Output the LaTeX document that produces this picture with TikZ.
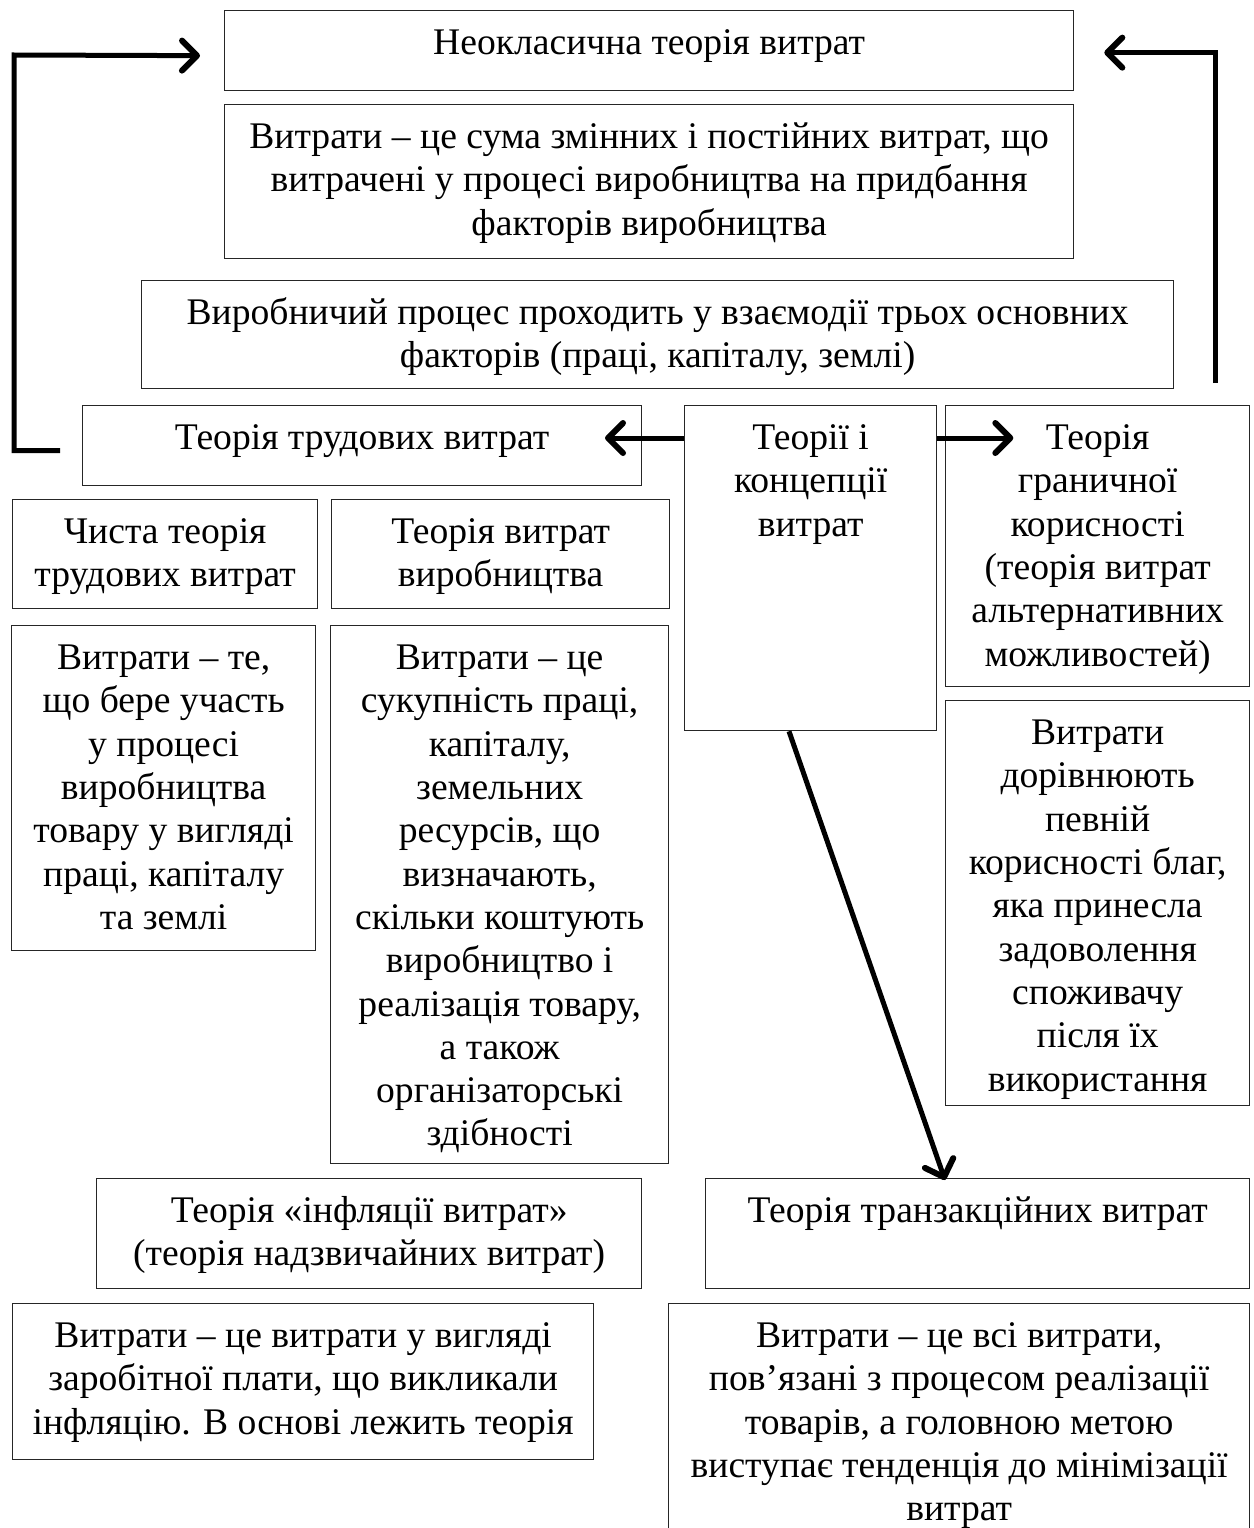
\documentclass[tikz,border=0pt]{standalone}
\usepackage{fontspec}
\setmainfont{Liberation Serif}
\usepackage{tikz}
\usetikzlibrary{positioning}
\usetikzlibrary{arrows.meta}
\tikzset{
block/.style = {draw=black!85, line width=1.3pt, fill=white, rectangle, inner sep=0pt, anchor=north west,
  font=\fontsize{37.6}{43.3}\selectfont},
link/.style = {draw, line width=5pt, line join=miter, -{Straight Barb[length=15pt,width=30pt,line width=6pt,round]}},
tmp/.style  = {coordinate}
}
% top aligned text in a box of given width and height
\newcommand{\btext}[3]{\parbox[t][#2][t]{#1}{\centering\rule{0pt}{44pt}#3}}

\begin{document}
\begin{tikzpicture}[x=1pt,y=-1pt]
    \useasboundingbox (0,0) rectangle (1253,1528);
    % We place the blocks first
    \node [block] at (224,10) (neo) {\btext{849pt}{80pt}{Неокласична теорія витрат}};
    \node [block] at (224,104) (suma) {\btext{849pt}{154pt}{Витрати – це сума змінних і постійних витрат, що\\
        витрачені у процесі виробництва на придбання\\ факторів виробництва}};
    \node [block] at (141,280) (proc) {\btext{1032pt}{108pt}{Виробничий процес проходить у взаємодії трьох основних\\
        факторів (праці, капіталу, землі)}};
    \node [block] at (82,405) (trud) {\btext{559pt}{80pt}{Теорія трудових витрат}};
    \node [block] at (684,405) (teorii) {\btext{252pt}{325pt}{Теорії і\\ концепції\\ витрат}};
    \node [block] at (945,405) (gran) {\btext{304pt}{281pt}{Теорія\\ граничної\\ корисності\\ (теорія витрат\\
        альтернативних\\ можливостей)}};
    \node [block] at (12,499) (chysta) {\btext{305pt}{109pt}{Чиста теорія\\ трудових витрат}};
    \node [block] at (331,499) (vyrob) {\btext{338pt}{109pt}{Теорія витрат\\ виробництва}};
    \node [block] at (11,625) (chystadef) {\btext{304pt}{325pt}{Витрати – те,\\ що бере участь\\ у процесі\\
        виробництва\\ товару у вигляді\\ праці, капіталу\\ та землі}};
    \node [block] at (330,625) (vyrobdef) {\btext{338pt}{538pt}{Витрати – це\\ сукупність праці,\\ капіталу,\\
        земельних\\ ресурсів, що\\ визначають,\\ скільки коштують\\ виробництво і\\ реалізація товару,\\
        а також\\ організаторські\\ здібності}};
    \node [block] at (945,700) (grandef) {\btext{304pt}{405pt}{Витрати\\ дорівнюють\\ певній\\ корисності благ,\\
        яка принесла\\ задоволення\\ споживачу\\ після їх\\ використання}};
    \node [block] at (96,1178) (infl) {\btext{545pt}{110pt}{Теорія «інфляції витрат»\\ (теорія надзвичайних витрат)}};
    \node [block] at (705,1178) (tranz) {\btext{544pt}{110pt}{Теорія транзакційних витрат}};
    \node [block] at (12,1303) (infldef) {\btext{581pt}{156pt}{Витрати – це витрати у вигляді\\
        заробітної плати, що викликали\\ інфляцію. В основі лежить теорія}};
    \node [block] at (668,1303) (tranzdef) {\btext{581pt}{245pt}{Витрати – це всі витрати,\\
        пов’язані з процесом реалізації\\ товарів, а головною метою\\ виступає тенденція до мінімізації\\ витрат}};
    \node [tmp] at (14,55) (lcorner) {};
    \node [tmp] at (1215,383) (rstart) {};

    % Then the arrows between them
    \draw [link] ([xshift=-22pt,yshift=-5pt]trud.west) -| (lcorner) -- ([xshift=-24pt,yshift=-5pt]neo.west);
    \draw [link] (rstart) |- ([xshift=30pt,yshift=-2pt]neo.east);
    \draw [link] ([yshift=-33pt]teorii.north west) -- ++(-79,0);
    \draw [link] ([yshift=-33pt]teorii.north east) -- ++(76,0);
    \draw [link] ([xshift=105pt]teorii.south west) -- ([xshift=240pt,yshift=-2pt]tranz.north west);
\end{tikzpicture}
\end{document}
